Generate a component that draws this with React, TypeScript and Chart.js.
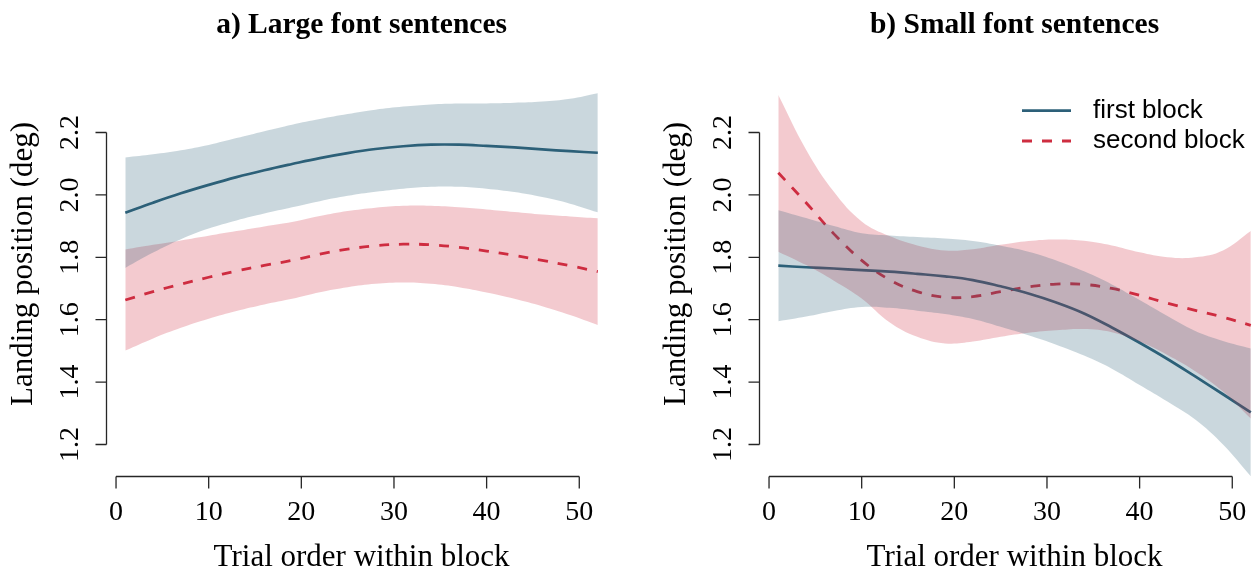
import React, { useEffect, useRef } from "react";
import { Chart, registerables } from "chart.js";

Chart.register(...registerables);

// ---------- data ----------
const TRIALS = [1, 4, 7, 10, 13, 16, 19, 22, 25, 28, 31, 34, 37, 40, 43, 46, 49, 52];

const X_TICKS = [0, 10, 20, 30, 40, 50];
const X_TICK_LABELS = ["0", "10", "20", "30", "40", "50"];
const Y_TICKS = [1.2, 1.4, 1.6, 1.8, 2.0, 2.2];
const Y_TICK_LABELS = ["1.2", "1.4", "1.6", "1.8", "2.0", "2.2"];

const PANEL_TITLES = ["a) Large font sentences", "b) Small font sentences"];
const X_LABEL = "Trial order within block";
const Y_LABEL = "Landing position (deg)";
const SERIES_NAMES = ["first block", "second block"];

// Panel a) large font
const LARGE_FIRST_FIT = [1.943, 1.975, 2.005, 2.032, 2.057, 2.079, 2.099, 2.118, 2.134, 2.147, 2.156, 2.161, 2.161, 2.157, 2.152, 2.146, 2.140, 2.135];
const LARGE_FIRST_UPPER = [2.120, 2.130, 2.143, 2.160, 2.182, 2.204, 2.225, 2.243, 2.259, 2.273, 2.283, 2.290, 2.293, 2.293, 2.295, 2.299, 2.308, 2.326];
const LARGE_FIRST_LOWER = [1.766, 1.815, 1.858, 1.892, 1.918, 1.940, 1.960, 1.980, 1.997, 2.010, 2.020, 2.026, 2.026, 2.020, 2.009, 1.993, 1.972, 1.944];
const LARGE_SECOND_FIT = [1.663, 1.690, 1.714, 1.736, 1.756, 1.774, 1.790, 1.810, 1.826, 1.837, 1.842, 1.840, 1.832, 1.820, 1.806, 1.790, 1.773, 1.754];
const LARGE_SECOND_UPPER = [1.825, 1.840, 1.854, 1.869, 1.884, 1.899, 1.913, 1.932, 1.948, 1.959, 1.965, 1.965, 1.960, 1.953, 1.945, 1.937, 1.931, 1.925];
const LARGE_SECOND_LOWER = [1.501, 1.540, 1.574, 1.603, 1.628, 1.649, 1.667, 1.688, 1.704, 1.715, 1.719, 1.715, 1.704, 1.687, 1.667, 1.643, 1.615, 1.583];

// Panel b) small font
const SMALL_FIRST_FIT = [1.773, 1.768, 1.764, 1.759, 1.754, 1.747, 1.739, 1.727, 1.707, 1.684, 1.655, 1.620, 1.575, 1.526, 1.474, 1.418, 1.361, 1.303];
const SMALL_FIRST_UPPER = [1.951, 1.926, 1.900, 1.877, 1.870, 1.865, 1.860, 1.852, 1.837, 1.818, 1.790, 1.755, 1.713, 1.663, 1.612, 1.564, 1.532, 1.508];
const SMALL_FIRST_LOWER = [1.595, 1.610, 1.628, 1.641, 1.638, 1.629, 1.618, 1.602, 1.577, 1.550, 1.520, 1.485, 1.443, 1.391, 1.338, 1.280, 1.200, 1.098];
const SMALL_SECOND_FIT = [2.071, 1.975, 1.875, 1.790, 1.728, 1.690, 1.672, 1.674, 1.690, 1.705, 1.714, 1.713, 1.700, 1.678, 1.653, 1.630, 1.608, 1.582];
const SMALL_SECOND_UPPER = [2.320, 2.145, 2.010, 1.915, 1.868, 1.838, 1.822, 1.826, 1.840, 1.852, 1.857, 1.853, 1.838, 1.816, 1.800, 1.800, 1.822, 1.884];
const SMALL_SECOND_LOWER = [1.818, 1.775, 1.725, 1.668, 1.592, 1.545, 1.524, 1.530, 1.545, 1.558, 1.566, 1.570, 1.560, 1.530, 1.487, 1.435, 1.370, 1.283];

// ---------- styles ----------
const BLUE = "rgb(45, 96, 121)";
const BLUE_BAND = "rgba(45, 96, 121, 0.25)";
const RED = "rgb(206, 45, 64)";
const RED_BAND = "rgba(206, 45, 64, 0.25)";
const AXIS_COLOR = "#262626";
const SERIF = '"Liberation Serif", "Times New Roman", serif';
const SANS = '"Liberation Sans", Arial, sans-serif';

const X_RANGE = [-1.04, 54.04];
const Y_RANGE = [1.099, 2.458];

const PANEL_W = 653;
const PANEL_H = 570;

function pts(values: number[]) {
  return TRIALS.map((x, i) => ({ x, y: values[i] }));
}

const axesPlugin = (title: string, showLegend: boolean) => ({
  id: "rAxes",
  afterDraw(chart: any) {
    const ctx = chart.ctx as CanvasRenderingContext2D;
    const xs = chart.scales.x;
    const ys = chart.scales.y;
    const area = chart.chartArea;
    ctx.save();
    ctx.strokeStyle = AXIS_COLOR;
    ctx.fillStyle = "#000";
    ctx.lineWidth = 1.3;

    // x axis
    const xb = Math.round(area.bottom) + 0.5;
    const x0 = xs.getPixelForValue(X_TICKS[0]);
    const x1 = xs.getPixelForValue(X_TICKS[X_TICKS.length - 1]);
    ctx.beginPath();
    ctx.moveTo(x0, xb);
    ctx.lineTo(x1, xb);
    X_TICKS.forEach((t) => {
      const px = xs.getPixelForValue(t);
      ctx.moveTo(px, xb);
      ctx.lineTo(px, xb + 12);
    });
    ctx.stroke();

    // y axis
    const yl = Math.round(area.left) + 0.5;
    const y0 = ys.getPixelForValue(Y_TICKS[0]);
    const y1 = ys.getPixelForValue(Y_TICKS[Y_TICKS.length - 1]);
    ctx.beginPath();
    ctx.moveTo(yl, y0);
    ctx.lineTo(yl, y1);
    Y_TICKS.forEach((t) => {
      const py = ys.getPixelForValue(t);
      ctx.moveTo(yl, py);
      ctx.lineTo(yl - 11, py);
    });
    ctx.stroke();

    // x tick labels
    ctx.font = `28px ${SERIF}`;
    ctx.textAlign = "center";
    ctx.textBaseline = "alphabetic";
    X_TICKS.forEach((t, i) => {
      ctx.fillText(X_TICK_LABELS[i], xs.getPixelForValue(t), area.bottom + 44);
    });

    // y tick labels (rotated)
    Y_TICKS.forEach((t, i) => {
      ctx.save();
      ctx.translate(area.left - 28, ys.getPixelForValue(t));
      ctx.rotate(-Math.PI / 2);
      ctx.fillText(Y_TICK_LABELS[i], 0, 0);
      ctx.restore();
    });

    // axis titles
    const cx = (area.left + area.right) / 2;
    const cy = (area.top + area.bottom) / 2;
    ctx.font = `31px ${SERIF}`;
    ctx.fillText(X_LABEL, cx, area.bottom + 90);
    ctx.save();
    ctx.translate(area.left - 74, cy);
    ctx.rotate(-Math.PI / 2);
    ctx.fillText(Y_LABEL, 0, 0);
    ctx.restore();

    // main title
    ctx.font = `bold 29.5px ${SERIF}`;
    ctx.fillText(title, cx, 33);

    // legend
    if (showLegend) {
      const lx0 = 369;
      const lx1 = 418;
      const tx = 440;
      const rows = [
        { y: 110.7, color: BLUE, dash: [] as number[], name: SERIES_NAMES[0] },
        { y: 141, color: RED, dash: [10, 10], name: SERIES_NAMES[1] },
      ];
      rows.forEach((r) => {
        ctx.save();
        ctx.strokeStyle = r.color;
        ctx.lineWidth = 2.8;
        ctx.setLineDash(r.dash);
        ctx.beginPath();
        ctx.moveTo(lx0, r.y);
        ctx.lineTo(lx1, r.y);
        ctx.stroke();
        ctx.restore();
        ctx.font = `26px ${SANS}`;
        ctx.textAlign = "left";
        ctx.textBaseline = "middle";
        ctx.fillStyle = "#000";
        ctx.fillText(r.name, tx, r.y);
      });
    }
    ctx.restore();
  },
});

type PanelProps = {
  title: string;
  firstFit: number[];
  firstUpper: number[];
  firstLower: number[];
  secondFit: number[];
  secondUpper: number[];
  secondLower: number[];
  showLegend: boolean;
};

function Panel(props: PanelProps) {
  const ref = useRef<HTMLCanvasElement | null>(null);
  useEffect(() => {
    if (!ref.current) return;
    const band = (values: number[], fill: any, color: string) => ({
      data: pts(values),
      borderWidth: 0,
      borderColor: "rgba(0,0,0,0)",
      backgroundColor: color,
      pointRadius: 0,
      tension: 0.4,
      fill,
    });
    const chart = new Chart(ref.current, {
      type: "line",
      data: {
        datasets: [
          band(props.firstUpper, "+1", BLUE_BAND),
          band(props.firstLower, false, BLUE_BAND),
          band(props.secondUpper, "+1", RED_BAND),
          band(props.secondLower, false, RED_BAND),
          {
            label: SERIES_NAMES[0],
            data: pts(props.firstFit),
            borderColor: BLUE,
            borderWidth: 2.7,
            pointRadius: 0,
            tension: 0.4,
            fill: false,
          },
          {
            label: SERIES_NAMES[1],
            data: pts(props.secondFit),
            borderColor: RED,
            borderWidth: 2.8,
            borderDash: [10, 10],
            pointRadius: 0,
            tension: 0.4,
            fill: false,
          },
        ],
      },
      options: {
        responsive: false,
        animation: false,
        events: [],
        layout: { padding: { left: 106.4, right: 36.3, top: 52, bottom: 94 } },
        scales: {
          x: { type: "linear", min: X_RANGE[0], max: X_RANGE[1], display: false },
          y: { type: "linear", min: Y_RANGE[0], max: Y_RANGE[1], display: false },
        },
        plugins: {
          legend: { display: false },
          tooltip: { enabled: false },
          title: { display: false },
        },
      },
      plugins: [axesPlugin(props.title, props.showLegend)],
    } as any);
    return () => chart.destroy();
  }, []);
  return <canvas ref={ref} width={PANEL_W} height={PANEL_H} style={{ display: "block" }} />;
}

export default function App() {
  return (
    <div
      style={{
        position: "fixed",
        left: 0,
        top: 0,
        width: 1258,
        height: 570,
        overflow: "hidden",
        background: "#fff",
      }}
    >
      <div style={{ position: "absolute", left: 0, top: 0, width: PANEL_W, height: PANEL_H }}>
        <Panel
          title={PANEL_TITLES[0]}
          firstFit={LARGE_FIRST_FIT}
          firstUpper={LARGE_FIRST_UPPER}
          firstLower={LARGE_FIRST_LOWER}
          secondFit={LARGE_SECOND_FIT}
          secondUpper={LARGE_SECOND_UPPER}
          secondLower={LARGE_SECOND_LOWER}
          showLegend={false}
        />
      </div>
      <div style={{ position: "absolute", left: PANEL_W, top: 0, width: PANEL_W, height: PANEL_H }}>
        <Panel
          title={PANEL_TITLES[1]}
          firstFit={SMALL_FIRST_FIT}
          firstUpper={SMALL_FIRST_UPPER}
          firstLower={SMALL_FIRST_LOWER}
          secondFit={SMALL_SECOND_FIT}
          secondUpper={SMALL_SECOND_UPPER}
          secondLower={SMALL_SECOND_LOWER}
          showLegend={true}
        />
      </div>
    </div>
  );
}
